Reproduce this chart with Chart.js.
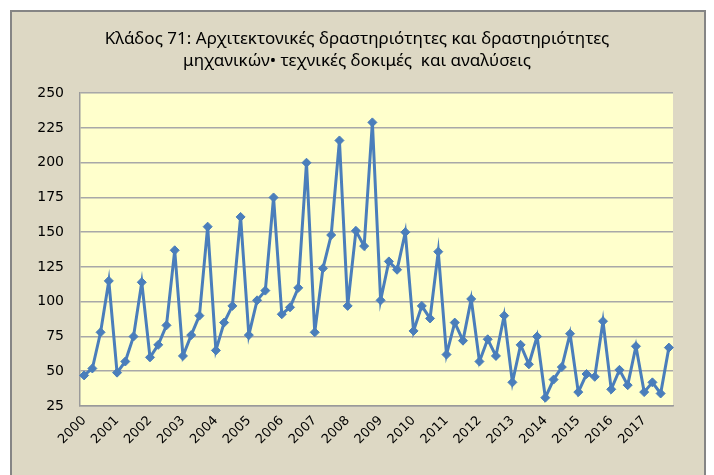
<!DOCTYPE html>
<html>
<head>
<meta charset="utf-8">
<script src="https://cdn.jsdelivr.net/npm/chart.js@4.4.1/dist/chart.umd.min.js"></script>
<style>
  html, body { margin: 0; padding: 0; background: #fff; }
  #wrap { width: 714px; height: 475px; }
</style>
</head>
<body>
<div id="wrap"><canvas id="myLineChart" width="714" height="475"></canvas></div>
<script>
const years = [2000, 2001, 2002, 2003, 2004, 2005, 2006, 2007, 2008,
               2009, 2010, 2011, 2012, 2013, 2014, 2015, 2016, 2017];
const quarters = ['Q1', 'Q2', 'Q3', 'Q4'];
// quarterly values, 4 per year
const values = [
    47, 52, 78, 115,
    49, 57, 75, 114,
    60, 69, 83, 137,
    61, 76, 90, 154,
    65, 85, 97, 161,
    76, 101, 108, 175,
    91, 96, 110, 200,
    78, 124, 148, 216,
    97, 151, 140, 229,
    101, 129, 123, 150,
    79, 97, 88, 136,
    62, 85, 72, 102,
    57, 73, 61, 90,
    42, 69, 55, 75,
    31, 44, 53, 77,
    35, 48, 46, 86,
    37, 51, 40, 68,
    35, 42, 34, 67
];
const yTicks = [25, 50, 75, 100, 125, 150, 175, 200, 225, 250];
const titleLines = [
    'Κλάδος 71: Αρχιτεκτονικές δραστηριότητες και δραστηριότητες',
    'μηχανικών• τεχνικές δοκιμές  και αναλύσεις'
];

const labels = [];
years.forEach(y => quarters.forEach(q => labels.push(y + ' ' + q)));

const frame = {
    id: 'frame',
    beforeDraw(chart) {
        const ctx = chart.ctx;
        const a = chart.chartArea;
        ctx.save();
        ctx.fillStyle = '#ffffff';
        ctx.fillRect(0, 0, chart.width, chart.height);
        ctx.fillStyle = '#ddd8c4';
        ctx.fillRect(11, 11, 694, chart.height);
        ctx.strokeStyle = '#858585';
        ctx.lineWidth = 2;
        ctx.strokeRect(11, 11, 694, chart.height + 10);
        ctx.fillStyle = '#ffffcc';
        ctx.fillRect(a.left, a.top, a.right - a.left, a.bottom - a.top);
        ctx.restore();
    }
};

const config = {
    type: 'line',
    data: {
        labels: labels,
        datasets: [{
            data: values,
            borderColor: '#4a7ebb',
            backgroundColor: '#4a7ebb',
            borderWidth: 3,
            pointStyle: 'rectRot',
            pointRadius: 4.5,
            pointHoverRadius: 4.5,
            pointBorderWidth: 1,
            fill: false,
            tension: 0
        }]
    },
    options: {
        responsive: false,
        animation: false,
        layout: { padding: { top: 18, left: 12, right: 12, bottom: 14 } },
        plugins: {
            legend: { display: false },
            tooltip: { enabled: false },
            title: {
                display: true,
                text: titleLines,
                color: '#000',
                font: { family: 'Noto Sans', size: 17, weight: 'normal', lineHeight: 1.3 },
                padding: { top: 10, bottom: 21 }
            }
        },
        scales: {
            x: {
                offset: true,
                grid: { display: false, drawTicks: false },
                border: { display: true, color: '#9a9a9a', width: 1.5 },
                afterFit(scale) { scale.height = 55; },
                ticks: {
                    autoSkip: false,
                    maxRotation: 45,
                    minRotation: 45,
                    padding: 7,
                    color: '#000',
                    font: { family: 'DejaVu Sans', size: 13 },
                    callback: (v, i) => i % 4 === 0 ? years[i / 4] : ''
                }
            },
            y: {
                min: 25,
                max: 250,
                afterFit(scale) { scale.width = 68; },
                afterBuildTicks(scale) { scale.ticks = yTicks.map(v => ({ value: v })); },
                grid: { color: '#a8a8a8', lineWidth: 1.5, drawTicks: false },
                border: { display: true, color: '#9a9a9a', width: 1.5 },
                ticks: {
                    padding: 16,
                    color: '#000',
                    font: { family: 'DejaVu Sans', size: 14 }
                }
            },
            // empty right-hand axis, only keeps room on the right so the title stays centred
            yRight: {
                position: 'right',
                min: 25,
                max: 250,
                afterFit(scale) { scale.width = 29; },
                grid: { display: false, drawTicks: false },
                border: { display: false },
                ticks: { display: false }
            }
        }
    },
    plugins: [frame]
};

new Chart(document.querySelector('#myLineChart'), config);
</script>
</body>
</html>
